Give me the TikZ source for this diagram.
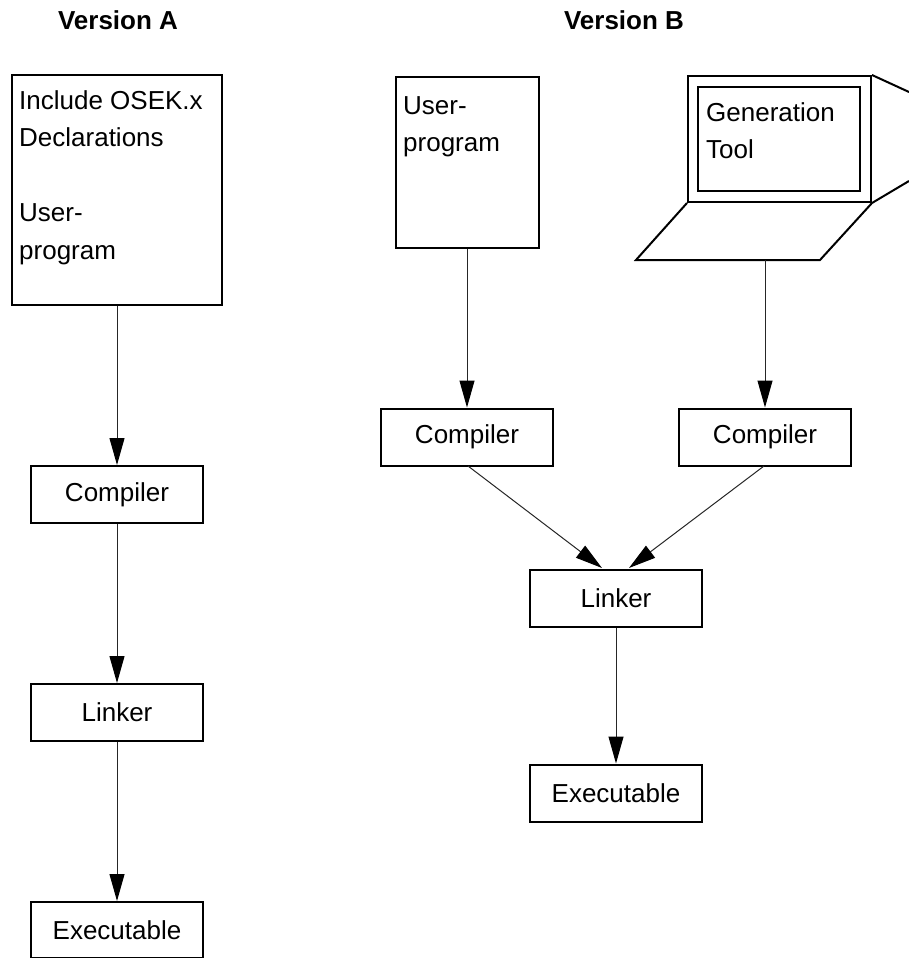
\documentclass[tikz,border=0pt]{standalone}
\usepackage{fontspec}
\setmainfont{Liberation Sans}
\usetikzlibrary{arrows.meta}
\tikzset{
 px/.style={x=1pt,y=-1pt},
 box/.style={draw=black,line width=2pt,fill=white,inner sep=0pt,font=\fontsize{26}{37.5}\selectfont},
 lbl/.style={font=\fontsize{26}{37.5}\selectfont,inner sep=0pt,anchor=north west,align=left},
 head/.style={font=\bfseries\fontsize{26}{30}\selectfont,inner sep=0pt},
 conn/.style={draw=black!85,line width=1pt,-{Triangle[length=27pt,width=15pt,fill=black,color=black]}},
 outline/.style={draw=black,line width=2pt,line join=miter}
}
\newcommand{\rbox}[6]{\node[box,minimum width=#4 pt,minimum height=#5 pt] (#1) at (#2,#3) {#6};}
\begin{document}
\begin{tikzpicture}[px]
\useasboundingbox (0,0) rectangle (909,958);
\node[head] (ha) at (118,20) {Version A};
\node[head] (hb) at (624,20) {Version B};
\rbox{a}{117}{190}{210}{230}{}
\node[lbl] (atxt) at (19,90) {Include OSEK.x\\Declarations\\[37.5pt]User-\\program};
\rbox{ac}{117}{494.5}{172}{57}{Compiler}
\rbox{al}{117}{712.5}{172}{57}{Linker}
\rbox{ae}{117}{930}{172}{56}{Executable}
\draw[conn] (a) -- (ac);
\draw[conn] (ac) -- (al);
\draw[conn] (al) -- (ae);
\rbox{u}{467}{162}{143}{171}{}
\node[lbl] (utxt) at (403,96) {User-\\program};
\rbox{bc1}{467}{437}{172}{57}{Compiler}
\rbox{bc2}{765}{437}{172}{57}{Compiler}
\rbox{bl}{616}{598}{172}{57}{Linker}
\rbox{be}{616}{793}{172}{57}{Executable}
\coordinate (lapb) at (765,260);
\coordinate (c1out) at (468,466);
\coordinate (c2out) at (764,466);
\coordinate (lin1) at (602,568);
\coordinate (lin2) at (629,568);
\rbox{lid}{779.5}{139}{183}{126}{}
\draw[outline] (lid.south west) -- (636,260) -- (820,260) -- (lid.south east);
\draw[outline] (lid.north east) -- (909,92);
\draw[outline] (lid.south east) -- (909,181);
\rbox{screen}{779}{139}{162}{104}{}
\node[lbl] (gtxt) at (706,102) {Generation\\Tool};
\draw[conn] (u) -- (bc1);
\draw[conn] (lapb) -- (bc2);
\draw[conn] (c1out) -- (lin1);
\draw[conn] (c2out) -- (lin2);
\draw[conn] (bl) -- (be);
\end{tikzpicture}
\end{document}
